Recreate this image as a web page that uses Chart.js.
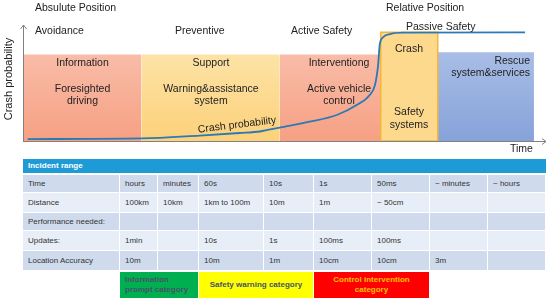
<!DOCTYPE html>
<html lang="en">
<head>
  <meta charset="UTF-8">
  <title>Crash probability and safety phases</title>
  <script src="https://cdn.jsdelivr.net/npm/chart.js"></script>
  <style>
    body {
      margin: 0;
      width: 550px;
      height: 301px;
      overflow: hidden;
      background: #fff;
      font-family: "Liberation Sans", Arial, sans-serif;
      position: relative;
    }
    #diagram {
      position: absolute;
      left: 0;
      top: 0;
    }
    #head {
      position: absolute;
      left: 23px;
      top: 159px;
      width: 523px;
      height: 14px;
      background: #1e9bd7;
      color: #fff;
      font-weight: bold;
      font-size: 8px;
      line-height: 14px;
      box-sizing: border-box;
      padding-left: 5px;
    }
    .grid {
      position: absolute;
      left: 23px;
      width: 523px;
      display: grid;
      grid-template-columns: 97px 38px 41px 65px 50px 58px 58px 58px 58px;
    }
    #rows {
      top: 175px;
      grid-template-rows: 18px 20px 18px 20px 20px;
    }
    #cats {
      top: 272px;
      grid-template-rows: 26px;
    }
    .cell {
      box-sizing: border-box;
      border-right: 1px solid #fff;
      border-bottom: 1px solid #fff;
      font-size: 8px;
      color: #333;
      padding-left: 5px;
      display: flex;
      align-items: center;
      white-space: nowrap;
    }
    .dark { background: #cfdbed; }
    .light { background: #e8eef7; }
    .cat {
      font-weight: bold;
      font-size: 8px;
      line-height: 10px;
      display: flex;
      align-items: center;
      box-sizing: border-box;
      border-right: 1px solid #fff;
    }
  </style>
</head>
<body>
  <canvas id="diagram" width="550" height="158"></canvas>
  <div id="head"></div>
  <div id="rows" class="grid"></div>
  <div id="cats" class="grid"></div>

  <script>
    // fasi sul grafico (asse x 0-100 = tempo, asse y 0-100 = probabilita)
    const phaseNames = ['Avoidance', 'Preventive', 'Active Safety', 'Crash', 'Rescue'];
    const phaseStart = [0, 22.65, 49.1, 68.4, 79.3];
    const phaseEnd = [22.65, 49.1, 68.4, 79.3, 97.7];
    const phaseTop = [74.5, 74.5, 74.5, 93.7, 76.5];

    // curva crash probability
    const curveX = [0.9, 22.7, 33.8, 41.4, 45.3, 49.1, 54.8, 60.0, 63.8, 66.3, 67.3, 67.9, 68.2, 68.8, 70.2, 72.6, 96.0];
    const curveY = [1.7, 2.2, 4.7, 6.9, 8.2, 11.6, 16.6, 22.4, 31.0, 39.7, 48.3, 65.5, 82.8, 89.2, 92.2, 93.4, 93.7];

    // tabella
    const tableTitle = 'Incident range';
    const rowLabels = ['Time', 'Distance', 'Performance needed:', 'Updates:', 'Location Accuracy'];
    const timeVals = ['hours', 'minutes', '60s', '10s', '1s', '50ms', '~ minutes', '~ hours'];
    const distanceVals = ['100km', '10km', '1km to 100m', '10m', '1m', '~ 50cm', '', ''];
    const performanceVals = ['', '', '', '', '', '', '', ''];
    const updateVals = ['1min', '', '10s', '1s', '100ms', '100ms', '', ''];
    const accuracyVals = ['10m', '', '10m', '1m', '10cm', '10cm', '3m', ''];
    const categoryNames = ['Information\nprompt category', 'Safety warning category', 'Control intervention\ncategory'];

    const fills = [
      ['#f9bca8', '#f6a083'],
      ['#fde3a6', '#fcd17a'],
      ['#f9bca8', '#f6a083'],
      ['#fdd98e', '#fdd98e'],
      ['#a9bee7', '#86a2d9']
    ];
    const catStyle = [
      { bg: '#00b050', color: '#44546a', align: 'flex-start' },
      { bg: '#ffff00', color: '#44546a', align: 'center' },
      { bg: '#ff0000', color: '#ffc000', align: 'center' }
    ];

    function gradiente(i) {
      return function (context) {
        const chart = context.chart;
        const area = chart.chartArea;
        if (!area) return fills[i][1];
        const top = chart.scales.y.getPixelForValue(phaseTop[i]);
        const g = chart.ctx.createLinearGradient(0, top, 0, area.bottom);
        g.addColorStop(0, fills[i][0]);
        g.addColorStop(1, fills[i][1]);
        return g;
      };
    }

    const datasets = [];
    datasets.push({
      label: 'Crash probability',
      data: curveX.map((x, i) => ({ x: x, y: curveY[i] })),
      borderColor: '#2b79b5',
      borderWidth: 1.8,
      pointRadius: 0,
      fill: false,
      cubicInterpolationMode: 'monotone',
      order: 0
    });
    phaseNames.forEach((name, i) => {
      const x0 = phaseStart[i], x1 = phaseEnd[i], h = phaseTop[i];
      const isCrash = name === 'Crash';
      // riempimento: bordo superiore riempito fino a zero
      datasets.push({
        label: name,
        data: [{ x: x0, y: h }, { x: x1, y: h }],
        borderColor: 'rgba(0,0,0,0)',
        borderWidth: 0,
        backgroundColor: gradiente(i),
        pointRadius: 0,
        tension: 0,
        fill: 'origin',
        order: isCrash ? 2 : 3
      });
      if (isCrash) {
        datasets.push({
          label: name + ' bordo',
          data: [{ x: x0, y: 0 }, { x: x0, y: h }, { x: x1, y: h }, { x: x1, y: 0 }, { x: x0, y: 0 }],
          borderColor: '#f5b63c',
          borderWidth: 1.5,
          pointRadius: 0,
          tension: 0,
          fill: false,
          order: 1
        });
      }
    });

    const testi = [
      ['Absulute Position', 35, 8, 'left'],
      ['Avoidance', 35, 31, 'left'],
      ['Preventive', 175, 31, 'left'],
      ['Active Safety', 291, 31, 'left'],
      ['Relative Position', 386, 8, 'left'],
      ['Passive Safety', 406, 27, 'left'],
      ['Information', 82.5, 63, 'center'],
      ['Foresighted', 82.5, 89, 'center'],
      ['driving', 82.5, 101, 'center'],
      ['Support', 211, 63, 'center'],
      ['Warning&assistance', 211, 89, 'center'],
      ['system', 211, 101, 'center'],
      ['Interventiong', 339, 63, 'center'],
      ['Active vehicle', 339, 89, 'center'],
      ['control', 339, 101, 'center'],
      ['Crash', 409, 49, 'center'],
      ['Safety', 409, 112.5, 'center'],
      ['systems', 409, 125, 'center'],
      ['Rescue', 530, 61, 'right'],
      ['system&services', 530, 73, 'right'],
      ['Time', 510, 149, 'left']
    ];

    const decorazioni = {
      id: 'decorazioni',
      afterDatasetsDraw(chart) {
        const ctx = chart.ctx;
        const xs = chart.scales.x, ys = chart.scales.y;
        const x0 = xs.getPixelForValue(0), y0 = ys.getPixelForValue(0);
        const xEnd = chart.chartArea.right, yEnd = chart.chartArea.top;
        ctx.save();
        ctx.strokeStyle = '#808080';
        ctx.lineWidth = 1;
        ctx.beginPath();
        ctx.moveTo(x0 + 0.5, y0);
        ctx.lineTo(x0 + 0.5, yEnd);
        ctx.moveTo(x0 - 2.5, yEnd + 4);
        ctx.lineTo(x0 + 0.5, yEnd);
        ctx.lineTo(x0 + 3.5, yEnd + 4);
        ctx.moveTo(x0, y0 + 0.5);
        ctx.lineTo(xEnd, y0 + 0.5);
        ctx.moveTo(xEnd - 4, y0 - 2.5);
        ctx.lineTo(xEnd, y0 + 0.5);
        ctx.lineTo(xEnd - 4, y0 + 3.5);
        ctx.stroke();

        ctx.fillStyle = '#222';
        ctx.font = '10.5px "Liberation Sans", Arial, sans-serif';
        ctx.textBaseline = 'middle';
        testi.forEach(t => {
          ctx.textAlign = t[3];
          ctx.fillText(t[0], t[1], t[2]);
        });

        // etichetta lungo la curva
        ctx.save();
        ctx.translate(237, 125);
        ctx.rotate(-7 * Math.PI / 180);
        ctx.textAlign = 'center';
        ctx.fillText('Crash probability', 0, 0);
        ctx.restore();

        // titolo asse y
        ctx.save();
        ctx.translate(9, 79);
        ctx.rotate(-Math.PI / 2);
        ctx.textAlign = 'center';
        ctx.font = '11px "Liberation Sans", Arial, sans-serif';
        ctx.fillText('Crash probability', 0, 0);
        ctx.restore();
        ctx.restore();
      }
    };

    new Chart(document.getElementById('diagram').getContext('2d'), {
      type: 'line',
      data: { datasets: datasets },
      options: {
        responsive: false,
        animation: false,
        devicePixelRatio: 1,
        layout: { padding: { left: 23, right: 4, top: 25, bottom: 17 } },
        plugins: { legend: { display: false }, tooltip: { enabled: false } },
        scales: {
          x: { type: 'linear', min: 0, max: 100, display: false },
          y: { type: 'linear', min: 0, max: 100, display: false }
        }
      },
      plugins: [decorazioni]
    });

    // tabella sotto il grafico
    document.getElementById('head').textContent = tableTitle;
    const righe = [timeVals, distanceVals, performanceVals, updateVals, accuracyVals];
    const rows = document.getElementById('rows');
    righe.forEach((vals, r) => {
      const cls = r % 2 === 0 ? 'dark' : 'light';
      [rowLabels[r]].concat(vals).forEach(v => {
        const d = document.createElement('div');
        d.className = 'cell ' + cls;
        d.textContent = v;
        rows.appendChild(d);
      });
    });

    const cats = document.getElementById('cats');
    cats.appendChild(document.createElement('div'));
    categoryNames.forEach((n, i) => {
      const d = document.createElement('div');
      d.className = 'cat';
      d.style.gridColumn = 'span 2';
      d.style.background = catStyle[i].bg;
      d.style.color = catStyle[i].color;
      d.style.justifyContent = catStyle[i].align;
      d.style.textAlign = catStyle[i].align === 'center' ? 'center' : 'left';
      d.style.paddingLeft = catStyle[i].align === 'center' ? '0' : '5px';
      d.innerHTML = n.replace('\n', '<br>');
      cats.appendChild(d);
    });
  </script>
</body>
</html>
